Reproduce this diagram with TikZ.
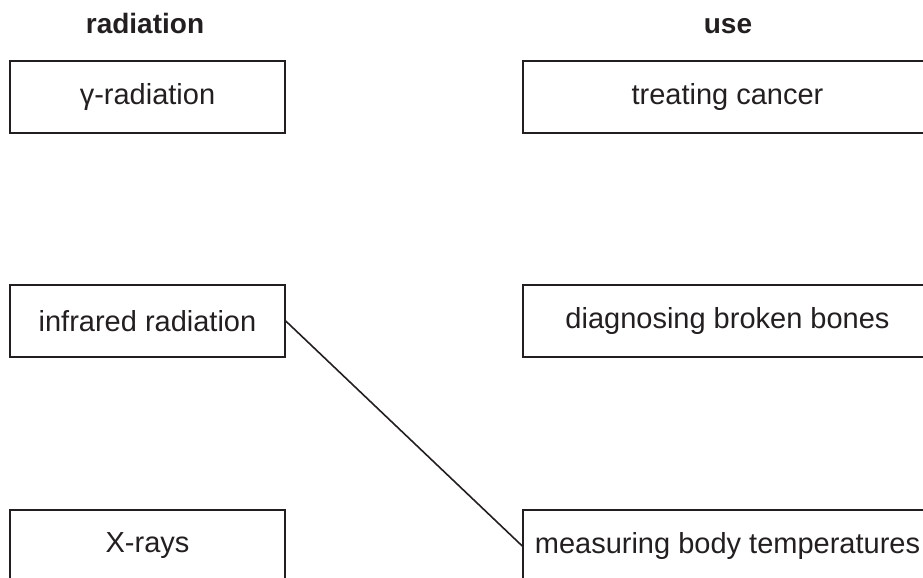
\documentclass[tikz,border=0pt]{standalone}
\usepackage{fontspec}
\setmainfont{Liberation Sans}
\definecolor{ink}{HTML}{231F20}
\begin{document}
\begin{tikzpicture}[x=0.5pt,y=-0.5pt,
  box/.style={draw=ink,line width=0.75pt,rectangle,inner sep=0pt,minimum height=36pt,
    text=ink,font=\fontsize{14.5}{17}\selectfont},
  lbox/.style={box,minimum width=137.5pt},
  rbox/.style={box,minimum width=204.5pt},
  head/.style={anchor=base,text=ink,inner sep=0pt,font=\fontsize{14}{17}\selectfont\bfseries},
  link/.style={draw=ink,line width=0.8pt}]
\useasboundingbox (0,0) rectangle (923,578);
\clip (0,0) rectangle (923,578);
\node[head] (hrad) at (145,33) {radiation};
\node[head] (huse) at (728,33) {use};
\node[lbox] (gamma) at (147.5,97) {γ-radiation};
\node[rbox] (cancer) at (727.5,97) {treating cancer};
\node[lbox] (ir) at (147.5,321) {infrared radiation};
\node[rbox] (bones) at (727.5,321) {diagnosing broken bones};
\node[lbox] (xray) at (147.5,546) {X-rays};
\node[rbox] (temp) at (727.5,546) {measuring body temperatures};
\draw[link] (ir.east) -- (temp.west);
\end{tikzpicture}
\end{document}
